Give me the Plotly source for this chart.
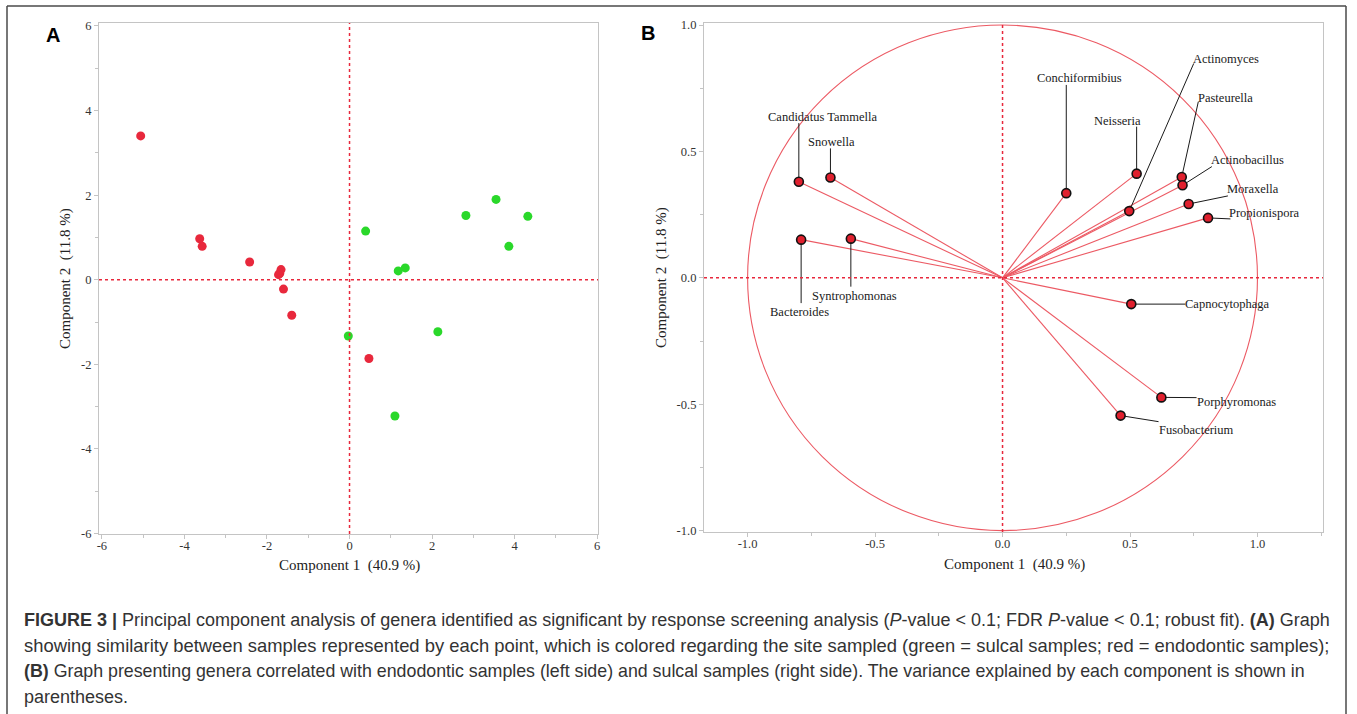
import plotly.graph_objects as go

W, H = 1357, 714

# ---------------- Data: panel A (sample scores) ----------------
red_pc1 = [-5.06, -3.63, -3.57, -2.42, -1.69, -1.66, -1.72, -1.60, -1.40, 0.47]
red_pc2 = [3.40, 0.97, 0.79, 0.42, 0.15, 0.24, 0.12, -0.22, -0.84, -1.86]
green_pc1 = [0.39, 1.18, 1.35, 2.82, 3.55, 3.86, 4.32, -0.03, 2.14, 1.10]
green_pc2 = [1.15, 0.21, 0.28, 1.52, 1.90, 0.79, 1.50, -1.33, -1.23, -3.22]

a_tick_vals = [-6, -4, -2, 0, 2, 4, 6]
a_tick_text = ["-6", "-4", "-2", "0", "2", "4", "6"]

# ---------------- Data: panel B (loadings) ----------------
genera = ["Candidatus Tammella", "Snowella", "Bacteroides", "Syntrophomonas",
          "Conchiformibius", "Neisseria", "Actinomyces", "Pasteurella",
          "Actinobacillus", "Moraxella", "Propionispora", "Capnocytophaga",
          "Porphyromonas", "Fusobacterium"]
load1 = [-0.799, -0.675, -0.790, -0.595, 0.250, 0.526, 0.497, 0.703,
         0.706, 0.730, 0.806, 0.505, 0.623, 0.463]
load2 = [0.380, 0.397, 0.151, 0.155, 0.335, 0.412, 0.264, 0.399,
         0.366, 0.292, 0.237, -0.104, -0.473, -0.545]

b_tick_vals = [-1.0, -0.5, 0.0, 0.5, 1.0]
b_tick_text = ["-1.0", "-0.5", "0.0", "0.5", "1.0"]

x_title = "Component 1  (40.9 %)"
y_title = "Component 2  (11.8 %)"

# label layout for panel B: (leader end x, leader end y, label x, label y)
label_layout = {
    "Candidatus Tammella": (-0.799, 0.612, -0.705, 0.637),
    "Snowella": (-0.675, 0.512, -0.669, 0.537),
    "Bacteroides": (-0.790, -0.100, -0.797, -0.134),
    "Syntrophomonas": (-0.595, -0.035, -0.579, -0.070),
    "Conchiformibius": (0.250, 0.763, 0.303, 0.792),
    "Neisseria": (0.526, 0.598, 0.452, 0.620),
    "Actinomyces": (0.750, 0.848, 0.877, 0.866),
    "Pasteurella": (0.768, 0.697, 0.875, 0.712),
    "Actinobacillus": (0.821, 0.440, 0.961, 0.465),
    "Moraxella": (0.884, 0.324, 0.983, 0.350),
    "Propionispora": (0.894, 0.233, 1.028, 0.255),
    "Capnocytophaga": (0.717, -0.104, 0.879, -0.104),
    "Porphyromonas": (0.761, -0.474, 0.916, -0.491),
    "Fusobacterium": (0.612, -0.569, 0.759, -0.601),
}

caption_lines = [
    "<b>FIGURE 3 |</b> Principal component analysis of genera identified as significant by response screening analysis (<i>P</i>-value &lt; 0.1; FDR <i>P</i>-value &lt; 0.1; robust fit). <b>(A)</b> Graph",
    "showing similarity between samples represented by each point, which is colored regarding the site sampled (green = sulcal samples; red = endodontic samples);",
    "<b>(B)</b> Graph presenting genera correlated with endodontic samples (left side) and sulcal samples (right side). The variance explained by each component is shown in",
    "parentheses.",
]

# ---------------- helpers ----------------
def px_x(p):
    return p / W

def px_y(p):
    return 1 - p / H

SERIF = "Liberation Serif"
RED = "#e8283c"
GREEN = "#2ad82a"
VEC = "#ec5a64"
AXC = "#c4c4c4"

fig = go.Figure()

# Panel A
fig.add_trace(go.Scatter(x=red_pc1, y=red_pc2, mode="markers", xaxis="x", yaxis="y",
                         marker=dict(color=RED, size=9), showlegend=False, hoverinfo="x+y"))
fig.add_trace(go.Scatter(x=green_pc1, y=green_pc2, mode="markers", xaxis="x", yaxis="y",
                         marker=dict(color=GREEN, size=9), showlegend=False, hoverinfo="x+y"))

# Panel B vectors
for g, lx, ly in zip(genera, load1, load2):
    fig.add_trace(go.Scatter(x=[0, lx], y=[0, ly], mode="lines", xaxis="x2", yaxis="y2",
                             line=dict(color=VEC, width=1.1), showlegend=False, hoverinfo="skip"))
# leader lines
for g, lx, ly in zip(genera, load1, load2):
    ex, ey, tx, ty = label_layout[g]
    fig.add_trace(go.Scatter(x=[lx, ex], y=[ly, ey], mode="lines", xaxis="x2", yaxis="y2",
                             line=dict(color="#1a1a1a", width=1), showlegend=False, hoverinfo="skip"))
fig.add_trace(go.Scatter(x=load1, y=load2, mode="markers", xaxis="x2", yaxis="y2", text=genera,
                         marker=dict(color="#e0202e", size=9, line=dict(color="#111111", width=1.6)),
                         showlegend=False, hoverinfo="text"))

axis_common = dict(showline=True, mirror=True, linecolor=AXC, linewidth=1.2,
                   showgrid=False, zeroline=False, ticks="outside", ticklen=4,
                   tickcolor=AXC, tickfont=dict(family=SERIF, size=12.5, color="#333333"))

fig.update_layout(
    width=W, height=H, margin=dict(l=0, r=0, t=0, b=0, autoexpand=False),
    paper_bgcolor="white", plot_bgcolor="white",
    xaxis=dict(domain=[px_x(99), px_x(598)], range=[-6.07, 6.02], anchor="y",
               tickvals=a_tick_vals, ticktext=a_tick_text, ticklabelstandoff=-4,
               minor=dict(dtick=1, ticklen=3, tickcolor=AXC, ticks="outside"), **axis_common),
    yaxis=dict(domain=[px_y(534), px_y(23)], range=[-6.01, 6.07], anchor="x",
               tickvals=a_tick_vals, ticktext=a_tick_text,
               minor=dict(dtick=1, ticklen=3, tickcolor=AXC, ticks="outside"), **axis_common),
    xaxis2=dict(domain=[px_x(704), px_x(1323)], range=[-1.171, 1.257], anchor="y2",
                tickvals=b_tick_vals, ticktext=b_tick_text, ticklabelstandoff=-4,
                minor=dict(dtick=0.25, ticklen=3, tickcolor=AXC, ticks="outside"), **axis_common),
    yaxis2=dict(domain=[px_y(532), px_y(23)], range=[-1.0055, 1.008], anchor="x2",
                tickvals=b_tick_vals, ticktext=b_tick_text,
                minor=dict(dtick=0.25, ticklen=3, tickcolor=AXC, ticks="outside"), **axis_common),
)

shapes = []
# dotted reference lines
shapes.append(dict(type="line", xref="x", yref="paper", x0=0, x1=0, y0=px_y(534), y1=px_y(23),
                   line=dict(color=RED, width=1.5, dash="dot")))
shapes.append(dict(type="line", xref="paper", yref="y", x0=px_x(99), x1=px_x(598), y0=0, y1=0,
                   line=dict(color=RED, width=1.5, dash="dot")))
shapes.append(dict(type="line", xref="x2", yref="paper", x0=0, x1=0, y0=px_y(532), y1=px_y(23),
                   line=dict(color=RED, width=1.5, dash="dot")))
shapes.append(dict(type="line", xref="paper", yref="y2", x0=px_x(704), x1=px_x(1323), y0=0, y1=0,
                   line=dict(color=RED, width=1.5, dash="dot")))
# unit circle
shapes.append(dict(type="circle", xref="x2", yref="y2", x0=-1, x1=1, y0=-1, y1=1,
                   line=dict(color=VEC, width=1.1), layer="below"))
# outer frame
FR = "#4a4a4a"
shapes.append(dict(type="line", xref="paper", yref="paper", x0=px_x(7), x1=px_x(1346), y0=px_y(6), y1=px_y(6),
                   line=dict(color=FR, width=1.5)))
shapes.append(dict(type="line", xref="paper", yref="paper", x0=px_x(7), x1=px_x(7), y0=px_y(6), y1=0,
                   line=dict(color=FR, width=1.5)))
shapes.append(dict(type="line", xref="paper", yref="paper", x0=px_x(1346), x1=px_x(1346), y0=px_y(6), y1=0,
                   line=dict(color=FR, width=1.5)))
fig.update_layout(shapes=shapes)

ann = []
for g in genera:
    ex, ey, tx, ty = label_layout[g]
    ann.append(dict(x=tx, y=ty, xref="x2", yref="y2", text=g, showarrow=False,
                    xanchor="center", yanchor="middle",
                    font=dict(family=SERIF, size=12.5, color="#1a1a1a")))
# axis titles
ctr = dict(xanchor="center", yanchor="middle", showarrow=False, xref="paper", yref="paper")
ann.append(dict(x=px_x(349), y=px_y(565), text=x_title,
                font=dict(family=SERIF, size=15, color="#222222"), **ctr))
ann.append(dict(x=px_x(66), y=px_y(279), text=y_title, textangle=-90,
                font=dict(family=SERIF, size=15, color="#222222"), **ctr))
ann.append(dict(x=px_x(1015), y=px_y(564), text=x_title,
                font=dict(family=SERIF, size=15, color="#222222"), **ctr))
ann.append(dict(x=px_x(662), y=px_y(278), text=y_title, textangle=-90,
                font=dict(family=SERIF, size=15, color="#222222"), **ctr))
# panel letters
ann.append(dict(x=px_x(53), y=px_y(35), text="<b>A</b>",
                font=dict(family="Liberation Sans", size=20, color="#000000"), **ctr))
ann.append(dict(x=px_x(648), y=px_y(33), text="<b>B</b>",
                font=dict(family="Liberation Sans", size=20, color="#000000"), **ctr))
# caption
cap_y = [620, 645, 671, 697]
cap_size = [18.0, 18.4, 17.8, 18.0]
for txt, yy, sz in zip(caption_lines, cap_y, cap_size):
    ann.append(dict(x=px_x(22), y=px_y(yy), xref="paper", yref="paper", text=txt, showarrow=False,
                    xanchor="left", yanchor="middle",
                    font=dict(family="Liberation Sans", size=sz, color="#333333")))
fig.update_layout(annotations=ann)

fig.write_html("out.html", config={"displayModeBar": False},
               post_script="document.body.style.margin='0';document.body.style.overflow='hidden';")
